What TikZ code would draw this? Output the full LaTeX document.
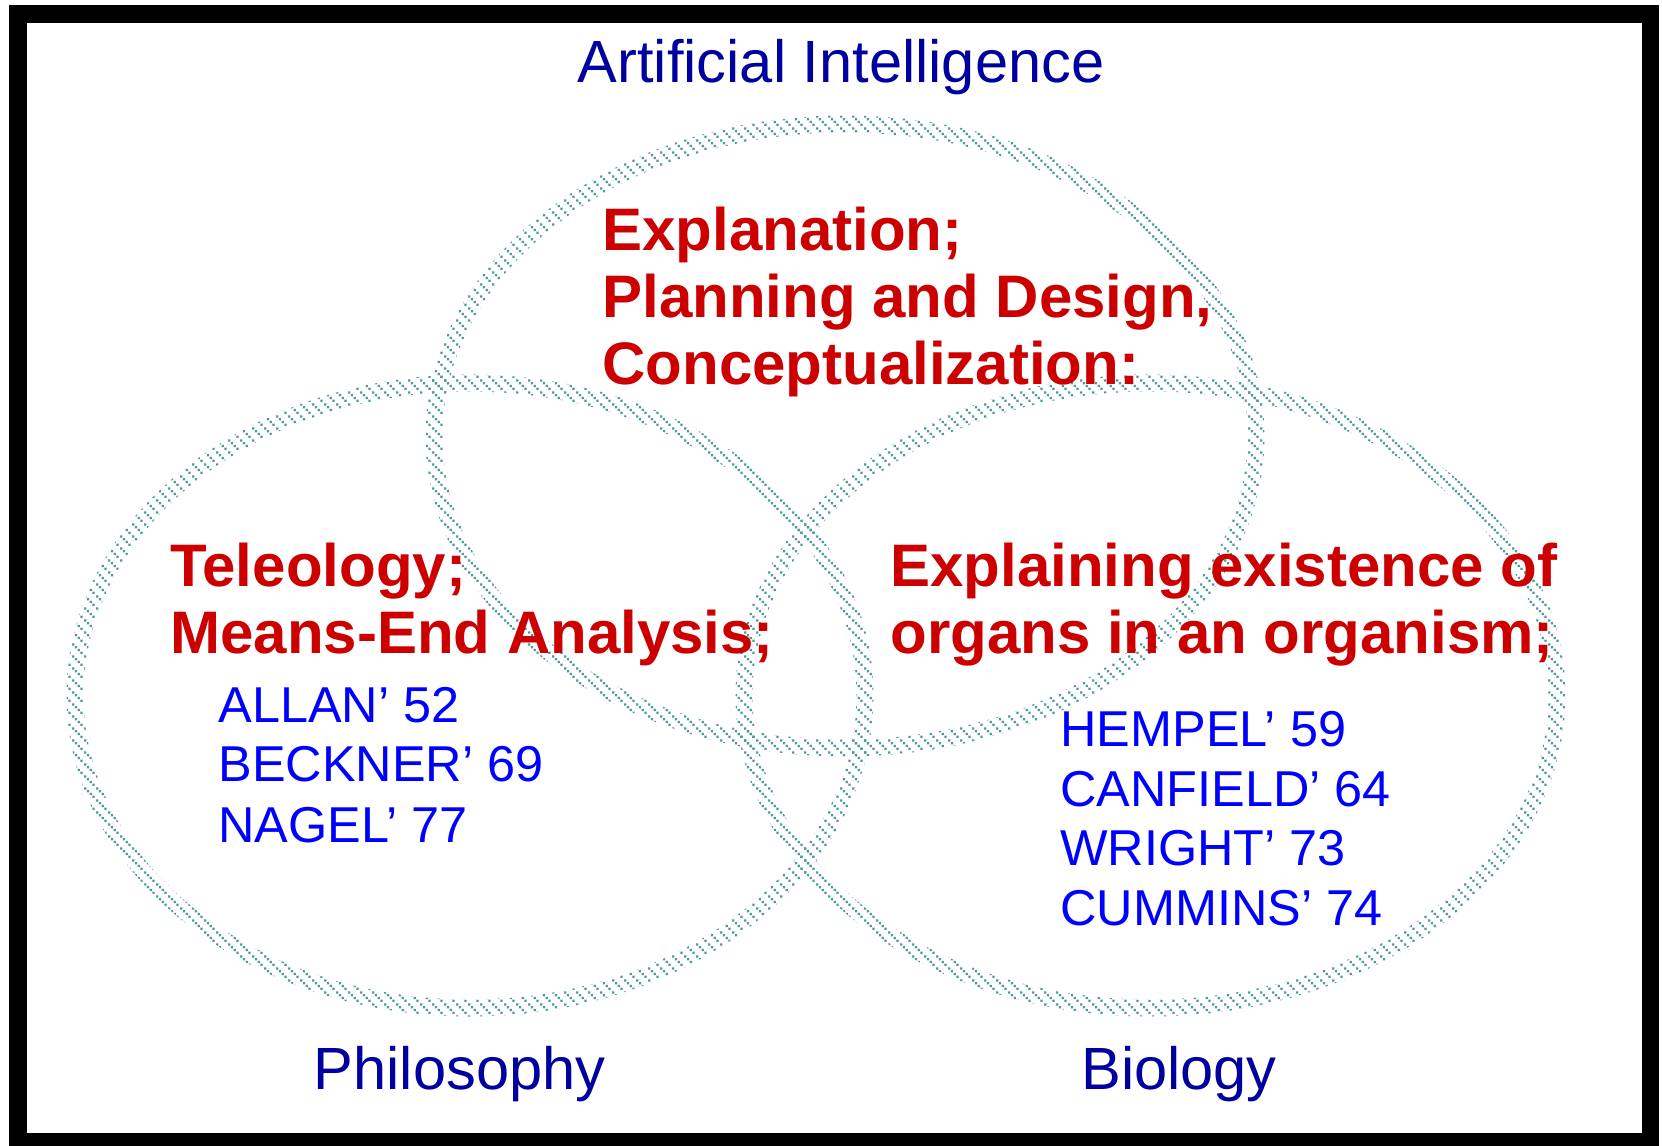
\documentclass[tikz,border=0pt]{standalone}
\usepackage{fontspec}
\setmainfont{Liberation Sans}
\usetikzlibrary{patterns.meta}
\definecolor{ringteal}{RGB}{77,153,153}
\definecolor{topicred}{RGB}{204,0,0}
\definecolor{refblue}{RGB}{0,0,255}
\definecolor{navyblue}{RGB}{0,0,160}
\tikzdeclarepattern{
  name=ringdots,
  type=uncolored,
  bottom left={(0pt,0pt)},
  top right={(6pt,6pt)},
  tile size={(6pt,6pt)},
  code={
    \fill (0pt,4.5pt) rectangle ++(1.3pt,1.3pt);
    \fill (1.5pt,3pt) rectangle ++(1.3pt,1.3pt);
    \fill (3pt,1.5pt) rectangle ++(1.3pt,1.3pt);
    \fill (4.5pt,0pt) rectangle ++(1.3pt,1.3pt);
  }
}
\begin{document}
\begin{tikzpicture}[x=0.5pt,y=0.5pt,
  ring/.style={pattern=ringdots,pattern color=ringteal,even odd rule},
  areatitle/.style={inner sep=0pt,anchor=base,text=navyblue,font=\fontsize{29.8}{34}\selectfont},
  topic/.style={inner sep=0pt,anchor=base west,text=topicred,font=\bfseries\fontsize{30}{34}\selectfont},
  refname/.style={inner sep=0pt,anchor=base west,text=refblue,font=\fontsize{25.2}{30}\selectfont},
  frame/.style={draw=black,line width=8.85pt}]
\useasboundingbox (0,0) rectangle (1662,-1146);
\fill[white] (0,0) rectangle (1662,-1146);
% rings
\fill[ring] (845,-436) ellipse [x radius=419.5, y radius=320.5]
            (845,-436) ellipse [x radius=402.5, y radius=303.5];
\fill[ring] (470,-695.5) ellipse [x radius=403.5, y radius=321]
            (470,-695.5) ellipse [x radius=386.5, y radius=304];
\fill[ring] (1150.5,-695.5) ellipse [x radius=415, y radius=321]
            (1150.5,-695.5) ellipse [x radius=398, y radius=304];
% frame
\draw[frame] (18.3,-13.7) rectangle (1650.5,-1141.5);
% area titles
\node[areatitle] (ai) at (841,-82) {Artificial Intelligence};
\node[areatitle] (phil) at (459.5,-1089) {Philosophy};
\node[areatitle] (bio) at (1179,-1089) {Biology};
% AI topics
\node[topic] (t1) at (602,-250) {Explanation;};
\node[topic] (t2) at (602,-317) {Planning and Design,};
\node[topic] (t3) at (602,-384) {Conceptualization:};
% philosophy topics
\node[topic] (p1) at (170,-586) {Teleology;};
\node[topic] (p2) at (170,-653) {Means-End Analysis;};
% biology topics
\node[topic] (b1) at (890,-586) {Explaining existence of};
\node[topic] (b2) at (890,-653) {organs in an organism;};
% references
\node[refname] (r1) at (218,-722) {ALLAN’ 52};
\node[refname] (r2) at (218,-781) {BECKNER’ 69};
\node[refname] (r3) at (218,-842) {NAGEL’ 77};
\node[refname] (r4) at (1060,-746) {HEMPEL’ 59};
\node[refname] (r5) at (1060,-806) {CANFIELD’ 64};
\node[refname] (r6) at (1060,-865.5) {WRIGHT’ 73};
\node[refname] (r7) at (1060,-925) {CUMMINS’ 74};
\end{tikzpicture}
\end{document}
